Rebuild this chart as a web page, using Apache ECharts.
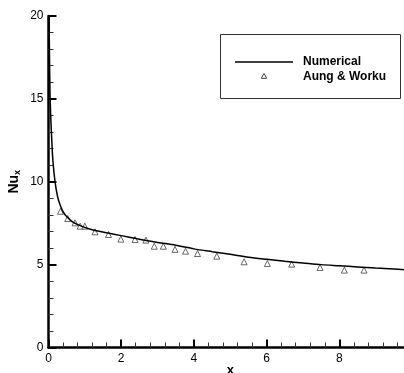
<!DOCTYPE html>
<html>
<head>
<meta charset="utf-8">
<script src="https://cdn.jsdelivr.net/npm/echarts@6/dist/echarts.min.js"></script>
<style>html,body{margin:0;padding:0;background:#fff;}#c{width:404px;height:373px;}</style>
</head>
<body>
<div id="c"></div>
<script>
// Numerical curve
const numX = [0.005, 0.02, 0.04, 0.06, 0.09, 0.12, 0.18, 0.25, 0.32, 0.4, 0.5, 0.65, 0.87, 1.2, 1.6, 2.0, 2.5, 3.0, 3.5, 4.0, 4.5, 5.0, 5.5, 6.0, 6.5, 7.0, 7.5, 8.0, 8.5, 9.0, 9.5, 10.0];
const numY = [24, 19, 15.5, 14, 12.5, 11.3, 10.0, 9.1, 8.6, 8.2, 7.9, 7.6, 7.35, 7.1, 6.92, 6.75, 6.53, 6.34, 6.17, 5.95, 5.78, 5.62, 5.45, 5.32, 5.2, 5.1, 5.0, 4.93, 4.86, 4.79, 4.73, 4.67];
// Aung & Worku data
const expX = [0.33, 0.53, 0.73, 0.87, 1.0, 1.28, 1.65, 1.99, 2.38, 2.68, 2.91, 3.16, 3.48, 3.77, 4.1, 4.63, 5.38, 6.02, 6.69, 7.47, 8.14, 8.68];
const expY = [8.22, 7.78, 7.52, 7.32, 7.32, 6.98, 6.82, 6.54, 6.52, 6.48, 6.11, 6.11, 5.92, 5.81, 5.67, 5.51, 5.17, 5.07, 5.03, 4.83, 4.67, 4.67];
const xTicks = [0, 2, 4, 6, 8, 10];
const yTicks = [0, 5, 10, 15, 20];
const legendNames = ['Numerical', 'Aung & Worku'];

const FONT = 'Liberation Sans, Arial, sans-serif';
const chart = echarts.init(document.getElementById('c'));
const axisCommon = {
  axisLine: {show: true, onZero: false, lineStyle: {color: '#000', width: 2.5}},
  axisTick: {show: true, inside: true, length: 8, lineStyle: {color: '#000', width: 2}},
  minorTick: {show: true, splitNumber: 5, length: 5, lineStyle: {color: '#333', width: 1}},
  splitLine: {show: false},
  axisLabel: {color: '#000', fontSize: 12, fontFamily: FONT}
};
const legendText = {fill: '#000', fontWeight: 'bold', fontSize: 12, fontFamily: FONT, verticalAlign: 'middle'};
chart.setOption({
  animation: false,
  grid: {left: 48.5, top: 16, right: -8, bottom: 25.5, outerBoundsMode: 'none', containLabel: false},
  xAxis: Object.assign({}, axisCommon, {
    type: 'value', min: xTicks[0], max: xTicks[xTicks.length - 1], interval: 2,
    name: 'x', nameLocation: 'middle', nameGap: 16.5, nameMoveOverlap: false,
    nameTextStyle: {color: '#000', fontWeight: 'bold', fontSize: 13, fontFamily: FONT},
    axisLabel: Object.assign({}, axisCommon.axisLabel, {margin: 5, showMaxLabel: true})
  }),
  yAxis: Object.assign({}, axisCommon, {
    type: 'value', min: yTicks[0], max: yTicks[yTicks.length - 1], interval: 5,
    name: '{n|Nu}{s|x}', nameLocation: 'middle', nameRotate: 90, nameGap: 26, nameMoveOverlap: false,
    nameTextStyle: {
      color: '#000', fontWeight: 'bold', fontSize: 14, fontFamily: FONT,
      rich: {
        n: {fontWeight: 'bold', fontSize: 14, color: '#000', fontFamily: FONT},
        s: {fontWeight: 'bold', fontSize: 9, color: '#000', fontFamily: FONT, padding: [8, 0, 0, 0]}
      }
    },
    axisLabel: Object.assign({}, axisCommon.axisLabel, {margin: 5})
  }),
  graphic: [
    {type: 'rect', left: 220, top: 34, shape: {width: 180, height: 64}, style: {fill: '#fff', stroke: '#333', lineWidth: 1}, z: 100},
    {type: 'line', shape: {x1: 235, y1: 62, x2: 293, y2: 62}, style: {stroke: '#000', lineWidth: 1.5}, z: 101},
    {type: 'polygon', shape: {points: [[264, 73.5], [261.3, 78.3], [266.7, 78.3]]}, style: {fill: '#fff', stroke: '#444', lineWidth: 1}, z: 101},
    {type: 'text', x: 303, y: 62, style: Object.assign({text: legendNames[0]}, legendText), z: 101},
    {type: 'text', x: 303, y: 76.5, style: Object.assign({text: legendNames[1]}, legendText), z: 101}
  ],
  series: [
    {
      name: legendNames[0], type: 'line', symbol: 'none', smooth: 0.3,
      lineStyle: {color: '#000', width: 1.5},
      itemStyle: {color: '#000'},
      data: numX.map((x, i) => [x, numY[i]])
    },
    {
      name: legendNames[1], type: 'scatter', symbol: 'triangle', symbolSize: 6,
      itemStyle: {color: '#fff', borderColor: '#444', borderWidth: 1},
      data: expX.map((x, i) => [x, expY[i]])
    }
  ]
});
</script>
</body>
</html>
